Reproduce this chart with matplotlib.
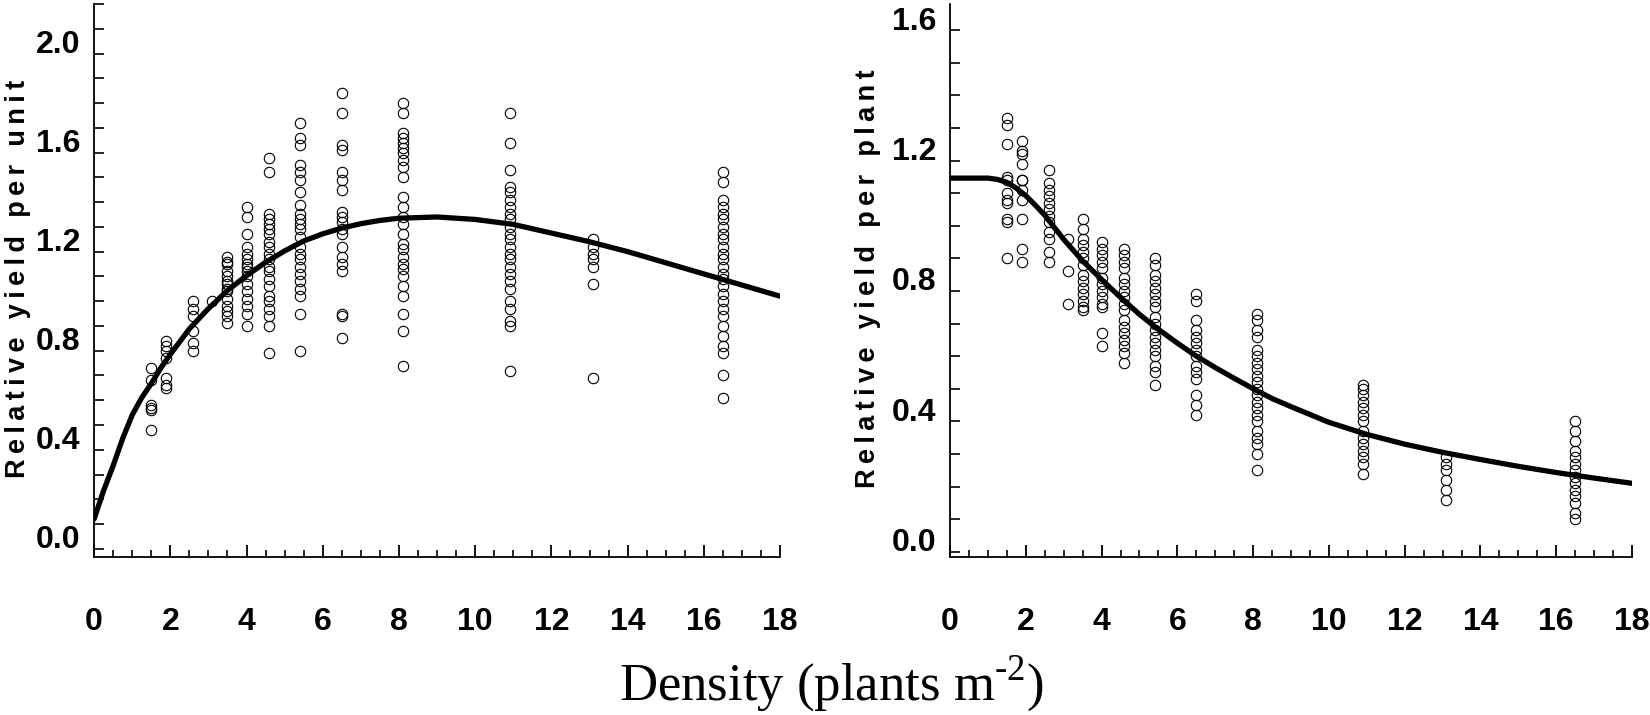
import numpy as np
import matplotlib.pyplot as plt
from matplotlib.ticker import MultipleLocator
from matplotlib.transforms import ScaledTranslation

plt.rcParams['mathtext.fontset'] = 'custom'
plt.rcParams['mathtext.rm'] = 'Liberation Serif'

# densities (plants m-2) of the sampled columns
density = [1.5, 1.9, 2.6, 3.1, 3.5, 4.0, 4.6, 5.4, 6.5, 8.1, 10.9, 13.1, 16.5]

# relative yield per unit area, one list per density
unit_yield = [
    [0.73, 0.68, 0.58, 0.57, 0.56, 0.48],
    [0.84, 0.82, 0.80, 0.77, 0.69, 0.66, 0.65],
    [1.00, 0.97, 0.94, 0.88, 0.83, 0.80],
    [1.00],
    [1.18, 1.16, 1.15, 1.12, 1.10, 1.08, 1.07, 1.05, 1.04, 1.01, 0.98, 0.96, 0.94, 0.91],
    [1.38, 1.34, 1.27, 1.22, 1.19, 1.17, 1.15, 1.14, 1.12, 1.10, 1.07, 1.04, 1.01, 0.98, 0.95, 0.90],
    [1.58, 1.52, 1.35, 1.33, 1.31, 1.29, 1.27, 1.24, 1.22, 1.19, 1.17, 1.14, 1.12, 1.09, 1.06,
     1.02, 1.00, 0.97, 0.94, 0.90, 0.79],
    [1.72, 1.66, 1.63, 1.55, 1.52, 1.49, 1.44, 1.39, 1.35, 1.33, 1.31, 1.29, 1.26, 1.22, 1.19,
     1.17, 1.14, 1.11, 1.08, 1.05, 1.02, 0.95, 0.80],
    [1.84, 1.76, 1.63, 1.61, 1.52, 1.49, 1.45, 1.36, 1.34, 1.32, 1.29, 1.27, 1.22, 1.18, 1.15,
     1.12, 0.95, 0.94, 0.85],
    [1.80, 1.76, 1.68, 1.66, 1.64, 1.62, 1.60, 1.57, 1.54, 1.50, 1.42, 1.38, 1.34, 1.31, 1.27,
     1.23, 1.21, 1.18, 1.15, 1.13, 1.10, 1.06, 1.02, 0.95, 0.88, 0.74],
    [1.76, 1.64, 1.53, 1.46, 1.44, 1.41, 1.38, 1.35, 1.33, 1.30, 1.27, 1.25, 1.22, 1.19, 1.17,
     1.14, 1.11, 1.08, 1.05, 1.00, 0.97, 0.92, 0.90, 0.72],
    [1.25, 1.22, 1.19, 1.17, 1.14, 1.07, 0.69],
    [1.52, 1.48, 1.41, 1.38, 1.35, 1.33, 1.30, 1.27, 1.25, 1.22, 1.19, 1.17, 1.14, 1.11, 1.09,
     1.06, 1.03, 1.00, 0.97, 0.94, 0.90, 0.86, 0.82, 0.79, 0.70, 0.61],
]

# relative yield per plant, one list per density
plant_yield = [
    [1.33, 1.31, 1.25, 1.15, 1.14, 1.10, 1.08, 1.07, 1.02, 1.01, 0.90],
    [1.26, 1.23, 1.22, 1.19, 1.14, 1.14, 1.11, 1.08, 1.02, 0.93, 0.89],
    [1.17, 1.13, 1.11, 1.09, 1.07, 1.05, 1.03, 1.01, 0.98, 0.96, 0.92, 0.89],
    [0.96, 0.86, 0.76],
    [1.02, 0.99, 0.96, 0.94, 0.92, 0.90, 0.88, 0.85, 0.83, 0.81, 0.79, 0.77, 0.75, 0.74],
    [0.95, 0.93, 0.91, 0.89, 0.87, 0.84, 0.82, 0.80, 0.78, 0.76, 0.75, 0.67, 0.63],
    [0.93, 0.91, 0.89, 0.87, 0.84, 0.82, 0.80, 0.78, 0.76, 0.74, 0.71, 0.69, 0.67, 0.65, 0.63,
     0.61, 0.58],
    [0.90, 0.88, 0.85, 0.83, 0.81, 0.79, 0.77, 0.75, 0.72, 0.70, 0.68, 0.66, 0.64, 0.62, 0.60,
     0.57, 0.55, 0.51],
    [0.79, 0.77, 0.71, 0.68, 0.66, 0.64, 0.62, 0.60, 0.57, 0.55, 0.53, 0.48, 0.45, 0.42],
    [0.73, 0.71, 0.68, 0.66, 0.62, 0.60, 0.58, 0.56, 0.54, 0.52, 0.50, 0.48, 0.46, 0.44, 0.42,
     0.40, 0.37, 0.35, 0.33, 0.30, 0.25],
    [0.51, 0.50, 0.48, 0.46, 0.44, 0.42, 0.40, 0.37, 0.35, 0.33, 0.31, 0.29, 0.27, 0.24],
    [0.29, 0.27, 0.25, 0.22, 0.19, 0.16],
    [0.40, 0.37, 0.34, 0.31, 0.29, 0.27, 0.25, 0.23, 0.21, 0.19, 0.17, 0.15, 0.12, 0.10],
]

# fitted curves
unit_curve_x = [0, 0.25, 0.5, 0.75, 1, 1.25, 1.5, 1.75, 2, 2.5, 3, 3.5, 4, 4.5, 5, 5.5, 6, 6.5,
                7, 7.5, 8, 9, 10, 11, 12, 13, 14, 15, 16, 17, 18]
unit_curve = [0.12, 0.235, 0.335, 0.445, 0.54, 0.61, 0.667, 0.73, 0.785, 0.888, 0.97, 1.043,
              1.103, 1.157, 1.203, 1.243, 1.272, 1.295, 1.313, 1.326, 1.335, 1.34, 1.33, 1.31,
              1.275, 1.24, 1.20, 1.155, 1.11, 1.065, 1.02]
plant_curve_x = [0, 0.5, 1, 1.25, 1.5, 1.75, 2, 2.25, 2.5, 2.75, 3, 3.5, 4, 4.5, 5, 5.5, 6, 6.5,
                 7, 7.5, 8, 8.5, 9, 10, 11, 12, 13, 14, 15, 16, 17, 18]
plant_curve = [1.146, 1.146, 1.146, 1.142, 1.133, 1.115, 1.092, 1.063, 1.032, 0.995, 0.958,
               0.892, 0.835, 0.78, 0.728, 0.682, 0.64, 0.60, 0.565, 0.532, 0.50, 0.47, 0.445,
               0.397, 0.36, 0.33, 0.305, 0.283, 0.262, 0.243, 0.226, 0.21]

xticks = [0, 2, 4, 6, 8, 10, 12, 14, 16, 18]

tick_font = ['Liberation Sans Narrow', 'Liberation Sans', 'DejaVu Sans']
label_font = ['Liberation Sans', 'DejaVu Sans']


def spaced(text):
    # letter-spaced label like the original
    return '\u2009 \u2009'.join('\u2009'.join(w) for w in text.split())


def panel(ax, yields, cx, cy, ylim, ylabel, label_x):
    xs = np.concatenate([[d] * len(v) for d, v in zip(density, yields)])
    ys = np.concatenate(yields)
    ax.plot(xs, ys, 'o', ms=7.5, mfc='none', mec='black', mew=0.8, zorder=2)
    ax.plot(cx, cy, '-', color='black', lw=3.8, zorder=3, solid_capstyle='round')
    ax.set_xlim(0, 18)
    ax.set_ylim(*ylim)
    for s in ['top', 'right']:
        ax.spines[s].set_visible(False)
    for s in ['left', 'bottom']:
        ax.spines[s].set_linewidth(1.3)
    ax.set_xticks(xticks)
    ax.xaxis.set_minor_locator(MultipleLocator(0.5))
    ax.yaxis.set_major_locator(MultipleLocator(0.4))
    ax.yaxis.set_minor_locator(MultipleLocator(0.1))
    ax.tick_params(axis='x', which='major', direction='in', length=9, width=1.3, pad=36)
    ax.tick_params(axis='x', which='minor', direction='in', length=5, width=1.2)
    ax.tick_params(axis='y', which='both', direction='in', length=7, width=1.2, pad=10)
    fig = ax.figure
    for lab in ax.get_xticklabels() + ax.get_yticklabels():
        lab.set_family(tick_font)
        lab.set_fontweight('bold')
        lab.set_fontsize(23)
    shift = ScaledTranslation(0, 12 / 100, fig.dpi_scale_trans)
    for lab in ax.get_yticklabels():
        lab.set_transform(lab.get_transform() + shift)
    fig.text(label_x, 0.61, spaced(ylabel), rotation=90, ha='center', va='center',
             family=label_font, fontweight='bold', fontsize=19.5)


fig = plt.figure(figsize=(16.5, 7.15), dpi=100)
ax1 = fig.add_axes([0.057, 0.221, 0.4158, 0.7734])
ax2 = fig.add_axes([0.5758, 0.221, 0.4133, 0.7734])

panel(ax1, unit_yield, unit_curve_x, unit_curve, (-0.033, 2.2), 'Relative yield per unit', 0.011)
panel(ax2, plant_yield, plant_curve_x, plant_curve, (-0.016, 1.68), 'Relative yield per plant', 0.526)

fig.text(0.504, 0.021, r'Density (plants m$^{\text{-2}}$)', ha='center', va='baseline',
         family=['Liberation Serif', 'DejaVu Serif'], fontsize=38)

fig.savefig('out.png', dpi=100)
